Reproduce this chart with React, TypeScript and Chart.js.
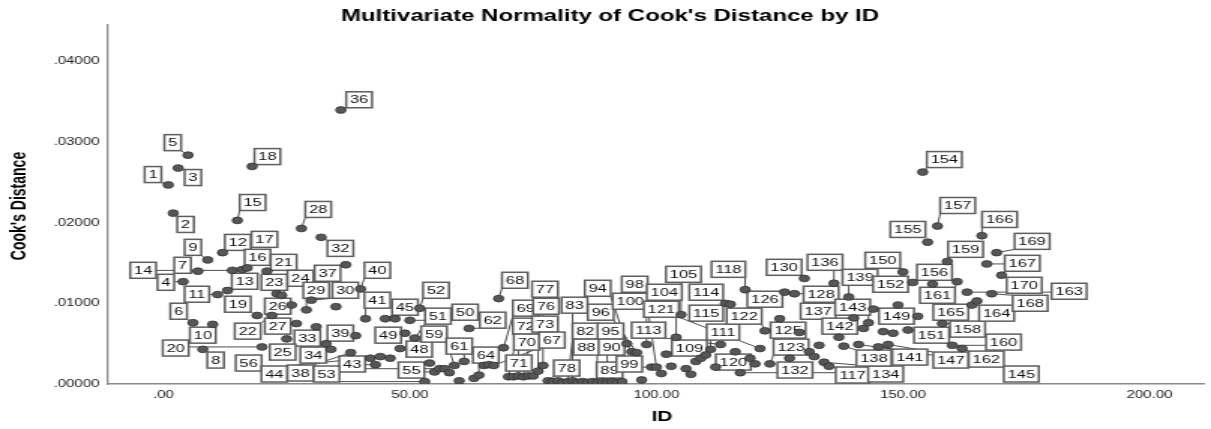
import React, { useEffect, useRef } from "react";
import { Chart, registerables } from "chart.js";
Chart.register(...registerables);

// ---- data (ID vs Cook's distance) ----
const ids = [
  1, 2, 3, 4, 5, 6, 7, 8, 9, 10, 11, 12, 13, 14, 15, 16, 17, 18, 19, 20,
  21, 22, 23, 24, 25, 26, 27, 28, 29, 30, 31, 32, 33, 34, 35, 36, 37, 38, 39, 40,
  41, 42, 43, 44, 45, 46, 47, 48, 49, 50, 51, 52, 53, 54, 55, 56, 57, 58, 59, 60,
  61, 62, 63, 64, 65, 66, 67, 68, 69, 70, 71, 72, 73, 74, 75, 76, 77, 78, 79, 80,
  81, 82, 83, 84, 85, 86, 87, 88, 89, 90, 91, 92, 93, 94, 95, 96, 97, 98, 99, 100,
  101, 102, 103, 104, 105, 106, 107, 108, 109, 110, 111, 112, 113, 114, 115, 116, 117, 118, 119, 120,
  121, 122, 123, 125, 126, 127, 128, 129, 130, 131, 132, 133, 134, 135, 136, 137, 138, 139, 140,
  141, 142, 143, 144, 145, 146, 147, 148, 149, 150, 151, 152, 153, 154, 155, 156, 157, 158, 159, 160,
  161, 162, 163, 164, 165, 166, 167, 168, 169, 170,
];
const cooks = [
  0.0247, 0.0212, 0.0268, 0.0127, 0.0284, 0.0076, 0.0140, 0.0043, 0.0154, 0.0074,
  0.0111, 0.0163, 0.0116, 0.0141, 0.0203, 0.0142, 0.0144, 0.0270, 0.0085, 0.0046,
  0.0140, 0.0085, 0.0112, 0.0110, 0.0056, 0.0098, 0.0075, 0.0193, 0.0092, 0.0104,
  0.0071, 0.0182, 0.0050, 0.0043, 0.0096, 0.0340, 0.0148, 0.0039, 0.0060, 0.0118,
  0.0081, 0.0032, 0.0024, 0.0034, 0.0081, 0.0032, 0.0081, 0.0044, 0.0063, 0.0079,
  0.0057, 0.0094, 0.0003, 0.0026, 0.0015, 0.0019, 0.0019, 0.0014, 0.0023, 0.0004,
  0.0028, 0.0069, 0.0007, 0.0011, 0.0023, 0.0024, 0.0023, 0.0106, 0.0045, 0.0009,
  0.0009, 0.0010, 0.0009, 0.0010, 0.0010, 0.0016, 0.0023, 0.0004, 0.0003, 0.0004,
  0.0002, 0.0003, 0.0004, 0.0002, 0.0003, 0.0002, 0.0003, 0.0002, 0.0003, 0.0002,
  0.0003, 0.0002, 0.0003, 0.0050, 0.0040, 0.0039, 0.0005, 0.0049, 0.0021, 0.0021,
  0.0013, 0.0037, 0.0022, 0.0058, 0.0086, 0.0019, 0.0012, 0.0028, 0.0032, 0.0036,
  0.0043, 0.0021, 0.0049, 0.0100, 0.0099, 0.0040, 0.0014, 0.0117, 0.0032, 0.0025,
  0.0044, 0.0066, 0.0025, 0.0081, 0.0114, 0.0032, 0.0112, 0.0064, 0.0131, 0.0040,
  0.0034, 0.0048, 0.0027, 0.0022, 0.0125, 0.0058, 0.0047, 0.0108, 0.0082,
  0.0049, 0.0069, 0.0076, 0.0093, 0.0046, 0.0065, 0.0049, 0.0063, 0.0098, 0.0139,
  0.0067, 0.0126, 0.0084, 0.0263, 0.0176, 0.0124, 0.0196, 0.0075, 0.0152, 0.0048,
  0.0127, 0.0044, 0.0114, 0.0098, 0.0103, 0.0184, 0.0149, 0.0112, 0.0163, 0.0135,
];

const xTicks = [0, 50, 100, 150, 200];
const yTicks = [0, 0.01, 0.02, 0.03, 0.04];

// case labels: id and label-box centre in data units
const labelIds = [
  36, 5, 18, 1, 3, 154, 15, 157, 28, 2, 166, 155, 169, 9, 12, 17, 32, 159, 16, 21,
  14, 7, 37, 40, 13, 23, 24, 4, 11, 29, 30, 41, 45, 52, 19, 26, 6, 22, 27, 10,
  20, 33, 39, 49, 25, 8, 56, 34, 43, 44, 38, 53, 48, 51, 59, 55, 50, 61, 62, 64,
  68, 69, 72, 70, 71, 77, 76, 73, 67, 83, 82, 88, 78, 94, 96, 95, 90, 89, 98, 100,
  99, 113, 104, 121, 105, 114, 115, 109, 111, 118, 122, 126, 120, 125, 123, 132, 117, 134, 130, 136,
  128, 139, 137, 143, 142, 138, 141, 150, 152, 149, 156, 161, 165, 151, 158, 147, 162, 160, 164, 145,
  167, 170, 168, 163,
];
const labelX = [
  39.7, 1.9, 21.1, -2.1, 6.0, 158.4, 18.1, 161.1, 31.4, 4.5, 169.6, 151.0, 176.2, 6.0, 15.1, 20.5, 35.9, 162.7, 19.1, 24.4,
  -4.1, 3.9, 33.3, 43.4, 16.5, 22.5, 27.8, 0.5, 6.8, 31.0, 36.9, 43.4, 49.0, 55.3, 15.1, 23.2, 3.1, 17.1, 23.2, 8.0,
  2.5, 29.2, 35.9, 45.6, 24.2, 10.6, 17.3, 30.4, 38.3, 22.5, 27.8, 33.1, 51.9, 55.7, 54.9, 50.3, 61.2, 60.0, 66.8, 65.4,
  71.3, 73.5, 73.5, 73.7, 72.1, 77.4, 77.6, 77.4, 78.8, 83.4, 85.6, 85.8, 81.8, 88.1, 88.7, 90.7, 90.9, 90.5, 95.6, 94.7,
  94.5, 98.4, 101.6, 101.0, 105.5, 110.1, 110.1, 106.7, 113.5, 114.6, 117.8, 122.0, 115.6, 126.7, 127.3, 128.1, 139.8, 146.5, 125.9, 134.2,
  133.4, 141.3, 132.8, 139.8, 137.2, 144.1, 151.4, 145.9, 147.5, 148.7, 156.4, 157.0, 159.7, 155.8, 163.1, 159.7, 166.9, 170.4, 169.0, 174.0,
  174.2, 174.6, 175.8, 183.7,
];
const labelY = [
  0.03527, 0.02995, 0.02822, 0.02599, 0.02562, 0.02785, 0.02252, 0.02215, 0.02166, 0.0198, 0.02042, 0.01918, 0.0177, 0.01696, 0.01757, 0.01795, 0.01683, 0.01671, 0.01572, 0.0151,
  0.01411, 0.01473, 0.01374, 0.01411, 0.01275, 0.01262, 0.01312, 0.01262, 0.01114, 0.01163, 0.01163, 0.0104, 0.00953, 0.01163, 0.0099, 0.00965, 0.00903, 0.00656, 0.00718, 0.00606,
  0.00446, 0.00569, 0.00631, 0.00606, 0.00396, 0.00297, 0.0026, 0.00359, 0.00248, 0.00124, 0.00136, 0.00124, 0.00433, 0.00842, 0.00619, 0.00173, 0.00891, 0.0047, 0.00792, 0.00359,
  0.01287, 0.00941, 0.00718, 0.0052, 0.0026, 0.01176, 0.00965, 0.00743, 0.00545, 0.00978, 0.00656, 0.00458, 0.00198, 0.01188, 0.00891, 0.00656, 0.00458, 0.00173, 0.01238, 0.01027,
  0.00248, 0.00668, 0.01139, 0.00928, 0.01361, 0.01139, 0.00879, 0.00446, 0.00644, 0.01423, 0.00842, 0.01052, 0.00272, 0.00668, 0.00458, 0.00173, 0.00111, 0.00124, 0.01448, 0.0151,
  0.01114, 0.01324, 0.00903, 0.00953, 0.00718, 0.00322, 0.00334, 0.01535, 0.01238, 0.00842, 0.01386, 0.01101, 0.00891, 0.00606, 0.00681, 0.00297, 0.00309, 0.0052, 0.00879, 0.00124,
  0.01498, 0.01225, 0.01002, 0.01151,
];

const TITLE = "Multivariate Normality of Cook's Distance by ID";
const X_TITLE = "ID";
const Y_TITLE = "Cook's Distance";

// canvas is drawn narrower and stretched horizontally, as in the reference
const CW = 807;
const CH = 429;
const SX = 1211 / CW;
const FONT = 'Arial, "Liberation Sans", sans-serif';

const fmtX = (v: number) => {
  const s = v.toFixed(2);
  return s.startsWith("0.") ? s.slice(1) : s;
};
const fmtY = (v: number) => v.toFixed(5).replace(/^0\./, ".");

const labelPlugin = {
  id: "caseLabels",
  beforeDatasetsDraw(chart: any) {
    const { ctx, scales } = chart;
    const xs = scales.x;
    const ys = scales.y;
    ctx.save();
    ctx.font = `11px ${FONT}`;
    const boxes = labelIds.map((id, i) => {
      const cx = xs.getPixelForValue(labelX[i]);
      const cy = ys.getPixelForValue(labelY[i]);
      const w = ctx.measureText(String(id)).width + 5;
      const h = 16;
      return { id, cx, cy, l: cx - w / 2, t: cy - h / 2, w, h };
    });
    ctx.strokeStyle = "#3a3a3a";
    ctx.lineWidth = 0.9;
    boxes.forEach((b) => {
      const k = ids.indexOf(b.id);
      if (k < 0) return;
      const px = xs.getPixelForValue(ids[k]);
      const py = ys.getPixelForValue(cooks[k]);
      const tx = Math.min(Math.max(px, b.l), b.l + b.w);
      const ty = Math.min(Math.max(py, b.t), b.t + b.h);
      if (Math.hypot((tx - px) * SX, ty - py) < 6) return;
      ctx.beginPath();
      ctx.moveTo(px, py);
      ctx.lineTo(tx, ty);
      ctx.stroke();
    });
    boxes.forEach((b) => {
      ctx.fillStyle = "#ffffff";
      ctx.fillRect(b.l, b.t, b.w, b.h);
      ctx.strokeStyle = "#5e5e5e";
      ctx.lineWidth = 1.5;
      ctx.strokeRect(b.l, b.t, b.w, b.h);
      ctx.fillStyle = "#111111";
      ctx.textAlign = "center";
      ctx.textBaseline = "middle";
      ctx.fillText(String(b.id), b.cx, b.cy + 0.5);
    });
    ctx.restore();
  },
  afterDraw(chart: any) {
    const { ctx } = chart;
    ctx.save();
    ctx.fillStyle = "#000";
    ctx.textAlign = "center";
    ctx.textBaseline = "middle";
    ctx.font = `bold 16px ${FONT}`;
    ctx.fillText(TITLE, 610 / SX, 17);
    ctx.font = `bold 14px ${FONT}`;
    ctx.fillText(X_TITLE, 662 / SX, 417);
    ctx.translate(20 / SX, 206);
    ctx.rotate(-Math.PI / 2);
    ctx.fillText(Y_TITLE, 0, 0);
    ctx.restore();
  },
};

export default function App() {
  const ref = useRef<HTMLCanvasElement | null>(null);
  useEffect(() => {
    const canvas = ref.current;
    if (!canvas) return;
    const chart = new Chart(canvas, {
      type: "scatter",
      data: {
        datasets: [
          {
            data: ids.map((id, i) => ({ x: id, y: cooks[i] })),
            pointRadius: 3.4,
            pointHoverRadius: 3.4,
            backgroundColor: "#575757",
            borderColor: "#333333",
            borderWidth: 0.8,
          },
        ],
      },
      options: {
        responsive: false,
        animation: false,
        devicePixelRatio: 1,
        layout: { padding: { top: 25, right: 1.7, left: 0, bottom: 0 } },
        plugins: {
          legend: { display: false },
          tooltip: { enabled: false },
          title: { display: false },
        },
        scales: {
          x: {
            type: "linear",
            min: -11.43,
            max: 211.2,
            afterBuildTicks: (s: any) => {
              s.ticks = xTicks.map((v) => ({ value: v }));
            },
            afterFit: (s: any) => {
              s.height = 45;
            },
            grid: { display: false, drawTicks: false },
            border: { display: true, color: "#8a8a8a", width: 1.5 },
            ticks: {
              padding: 5,
              maxRotation: 0,
              autoSkip: false,
              color: "#1a1a1a",
              font: { family: FONT, size: 10 },
              callback: (v: any) => fmtX(Number(v)),
            },
          },
          y: {
            type: "linear",
            min: 0,
            max: 0.04455,
            afterBuildTicks: (s: any) => {
              s.ticks = yTicks.map((v) => ({ value: v }));
            },
            afterFit: (s: any) => {
              s.width = 107 / SX;
            },
            grid: { display: false, drawTicks: false },
            border: { display: true, color: "#8a8a8a", width: 1.3 },
            ticks: {
              padding: 5,
              autoSkip: false,
              color: "#1a1a1a",
              font: { family: FONT, size: 10 },
              callback: (v: any) => fmtY(Number(v)),
            },
          },
        },
      },
      plugins: [labelPlugin],
    } as any);
    return () => chart.destroy();
  }, []);
  return (
    <div style={{ position: "fixed", left: 0, top: 0, width: 1211, height: 429, background: "#fff" }}>
      <canvas
        ref={ref}
        width={CW}
        height={CH}
        style={{ width: "1211px", height: "429px", display: "block" }}
      />
    </div>
  );
}
